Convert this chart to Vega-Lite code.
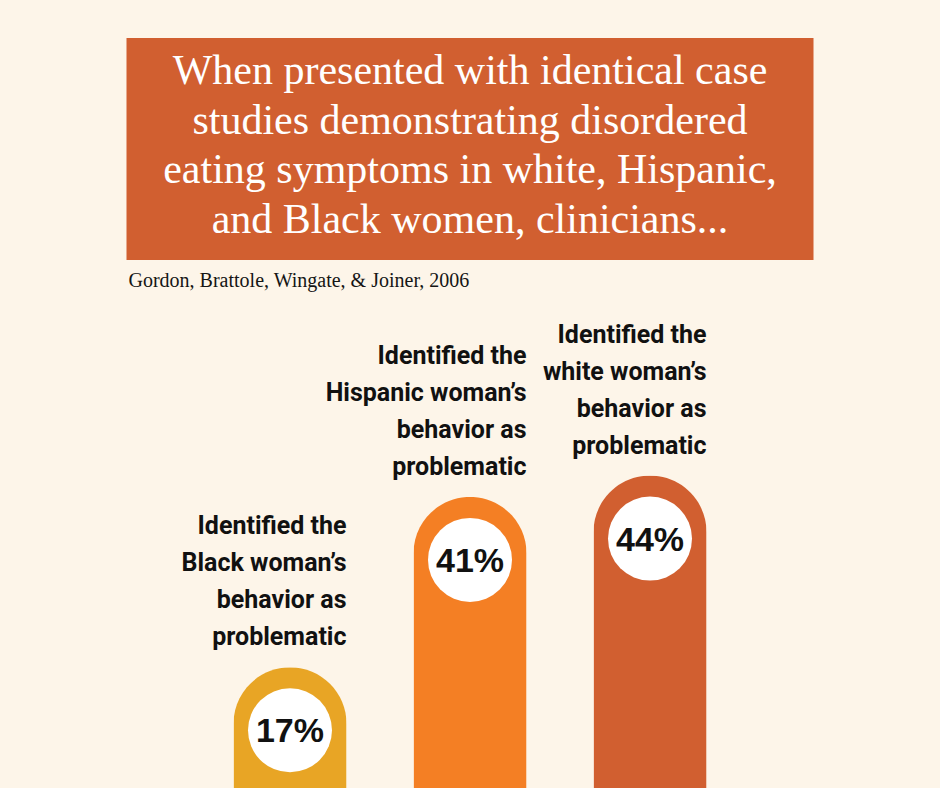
{
  "$schema": "https://vega.github.io/schema/vega-lite/v6.json",
  "background": "#fdf5e9",
  "padding": {"left": 0, "right": 0, "top": 38, "bottom": 0},
  "spacing": 0,
  "center": true,
  "config": {"view": {"stroke": null}, "concat": {"spacing": 0}},
  "vconcat": [
    {
      "width": 687,
      "height": 222,
      "view": {"fill": "#d15f30", "stroke": null},
      "title": {
        "text": "Gordon, Brattole, Wingate, & Joiner, 2006",
        "orient": "bottom",
        "anchor": "start",
        "font": "Liberation Serif",
        "fontSize": 20,
        "fontWeight": "normal",
        "color": "#151515",
        "baseline": "alphabetic",
        "offset": 27,
        "dx": 2
      },
      "data": {"values": [{"headline": ["When presented with identical case", "studies demonstrating disordered", "eating symptoms in white, Hispanic,", "and Black women, clinicians..."]}]},
      "mark": {"type": "text", "font": "Liberation Serif", "fontSize": 42, "color": "#ffffff", "align": "center", "baseline": "middle", "lineHeight": 49.6, "dy": -78},
      "encoding": {"text": {"field": "headline"}}
    },
    {
      "width": 940,
      "height": 497,
      "data": {"values": [
        {"group": "Black", "pct": 17, "pctLabel": "17%", "label": ["Identified the", "Black woman’s", "behavior as", "problematic"]},
        {"group": "Hispanic", "pct": 41, "pctLabel": "41%", "label": ["Identified the", "Hispanic woman’s", "behavior as", "problematic"]},
        {"group": "White", "pct": 44, "pctLabel": "44%", "label": ["Identified the", "white woman’s", "behavior as", "problematic"]}
      ]},
      "encoding": {
        "x": {"field": "group", "type": "nominal", "axis": null, "scale": {"domain": ["_left", "Black", "Hispanic", "White", "_right"], "paddingInner": 0.372, "paddingOuter": 0.297}},
        "y": {"field": "pct", "type": "quantitative", "axis": null, "scale": {"domain": [0, 70], "nice": false}}
      },
      "layer": [
        {
          "mark": {"type": "bar", "cornerRadiusTopLeft": 56.5, "cornerRadiusTopRight": 56.5},
          "encoding": {
            "color": {"field": "group", "type": "nominal", "legend": null, "scale": {"domain": ["Black", "Hispanic", "White"], "range": ["#e8a525", "#f47f24", "#d15f30"]}}
          }
        },
        {
          "mark": {"type": "circle", "size": 7056, "color": "#ffffff", "opacity": 1, "yOffset": 63}
        },
        {
          "mark": {"type": "text", "font": "Liberation Sans", "fontWeight": "bold", "fontSize": 34, "color": "#111111", "align": "center", "baseline": "middle", "dy": 65},
          "encoding": {"text": {"field": "pctLabel"}}
        },
        {
          "mark": {"type": "text", "font": "Roboto", "fontWeight": "bold", "fontSize": 25, "color": "#111111", "align": "right", "baseline": "alphabetic", "lineHeight": 37, "dy": -133},
          "encoding": {
            "x": {"field": "group", "type": "nominal", "bandPosition": 1},
            "text": {"field": "label"}
          }
        }
      ]
    }
  ]
}
